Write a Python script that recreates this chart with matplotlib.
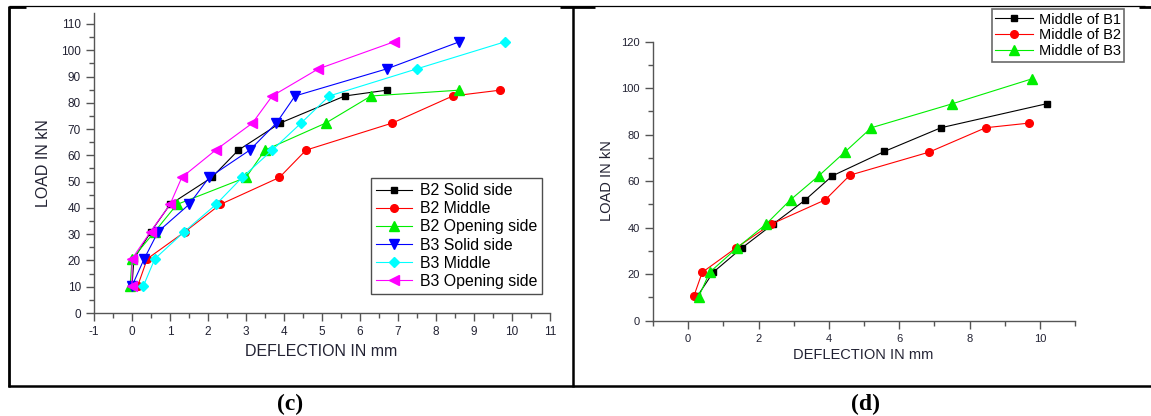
import matplotlib
matplotlib.use("Agg")
import matplotlib.pyplot as plt
from matplotlib.ticker import MultipleLocator
from matplotlib.lines import Line2D

plt.rcParams['font.family'] = ['Liberation Sans', 'DejaVu Sans']
plt.rcParams['axes.unicode_minus'] = False

# --- panel (c) data: deflection (mm) vs load (kN) ---
b2_solid_x = [0.0, 0.05, 0.5, 1.0, 2.1, 2.8, 3.9, 5.6, 6.7]
b2_solid_y = [10.3, 20.6, 31.0, 41.3, 51.6, 62.0, 72.3, 82.6, 84.8]
b2_mid_x = [0.15, 0.4, 1.4, 2.32, 3.88, 4.58, 6.85, 8.44, 9.68]
b2_mid_y = [10.3, 20.6, 31.0, 41.3, 51.6, 62.0, 72.3, 82.6, 84.8]
b2_open_x = [-0.05, 0.0, 0.6, 1.18, 3.0, 3.5, 5.1, 6.29, 8.6]
b2_open_y = [10.3, 20.6, 31.0, 41.3, 51.6, 62.0, 72.3, 82.6, 84.8]
b3_solid_x = [0.0, 0.32, 0.69, 1.5, 2.03, 3.1, 3.8, 4.29, 6.7, 8.61]
b3_solid_y = [10.3, 20.6, 31.0, 41.3, 51.6, 62.0, 72.3, 82.6, 92.9, 103.2]
b3_mid_x = [0.3, 0.6, 1.38, 2.21, 2.9, 3.69, 4.45, 5.19, 7.49, 9.81]
b3_mid_y = [10.3, 20.6, 31.0, 41.3, 51.6, 62.0, 72.3, 82.6, 92.9, 103.2]
b3_open_x = [0.0, 0.0, 0.49, 1.0, 1.31, 2.2, 3.17, 3.69, 4.9, 6.89]
b3_open_y = [10.3, 20.6, 31.0, 41.3, 51.6, 62.0, 72.3, 82.6, 92.9, 103.2]

# --- panel (d) data ---
mid_b1_x = [0.26, 0.71, 1.52, 2.41, 3.31, 4.1, 5.58, 7.19, 10.19]
mid_b1_y = [10.5, 20.8, 31.2, 41.5, 51.7, 62.3, 72.8, 83.0, 93.3]
mid_b2_x = [0.16, 0.4, 1.35, 2.36, 3.9, 4.6, 6.85, 8.46, 9.7]
mid_b2_y = [10.5, 20.8, 31.2, 41.5, 52.0, 62.6, 72.5, 83.0, 85.0]
mid_b3_x = [0.3, 0.61, 1.39, 2.22, 2.91, 3.72, 4.46, 5.21, 7.51, 9.79]
mid_b3_y = [10.3, 20.8, 31.3, 41.6, 52.0, 62.4, 72.6, 83.0, 93.3, 104.1]

W, H = 1151, 416
fig = plt.figure(figsize=(W / 100, H / 100), dpi=100)


def fx(px):
    return px / W


def fy(py):
    return 1 - py / H


def style_axes(ax, lab_size):
    for s in ['top', 'right']:
        ax.spines[s].set_visible(False)
    for s in ['left', 'bottom']:
        ax.spines[s].set_color('#555555')
        ax.spines[s].set_linewidth(1.0)
    ax.tick_params(which='major', direction='out', length=6, width=1.0,
                   color='#555555', labelsize=lab_size, labelcolor='#222233')
    ax.tick_params(which='minor', direction='out', length=3.5, width=1.0,
                   color='#555555')


# ---------------- panel (c) ----------------
ax1 = fig.add_axes([fx(94), fy(313), fx(550 - 94), (313 - 12.7) / H])
series_c = [
    (b2_solid_x, b2_solid_y, 'black', 's', 'B2 Solid side', 5),
    (b2_mid_x, b2_mid_y, 'red', 'o', 'B2 Middle', 5.5),
    (b2_open_x, b2_open_y, '#00ee00', '^', 'B2 Opening side', 7),
    (b3_solid_x, b3_solid_y, 'blue', 'v', 'B3 Solid side', 7),
    (b3_mid_x, b3_mid_y, 'cyan', 'D', 'B3 Middle', 5.5),
    (b3_open_x, b3_open_y, 'magenta', '<', 'B3 Opening side', 7),
]
for x, y, c, m, lab, ms in series_c:
    ax1.plot(x, y, color=c, marker=m, markersize=ms, linewidth=0.8, label=lab)
ax1.set_xlim(-1, 11)
ax1.set_ylim(0, 114.3)
ax1.xaxis.set_major_locator(MultipleLocator(1))
ax1.xaxis.set_minor_locator(MultipleLocator(0.5))
ax1.yaxis.set_major_locator(MultipleLocator(10))
ax1.yaxis.set_minor_locator(MultipleLocator(5))
style_axes(ax1, 8.5)
leg1 = ax1.legend(loc='upper left', bbox_to_anchor=(fx(371), fy(178.3)),
                  bbox_transform=fig.transFigure, fontsize=11.4, frameon=True,
                  fancybox=False, edgecolor='#222222', labelspacing=0.2,
                  handlelength=2.3, handletextpad=0.5, borderpad=0.3,
                  borderaxespad=0)
leg1.get_frame().set_linewidth(1.0)

fig.text(fx(321), fy(351), 'DEFLECTION IN mm', ha='center', va='center',
         fontsize=11.5, color='#222233')
fig.text(fx(43.5), fy(163), 'LOAD IN kN', ha='center', va='center',
         rotation=90, fontsize=11.5, color='#222233')

# ---------------- panel (d) ----------------
ax2 = fig.add_axes([fx(653), fy(320.7), fx(1075 - 653), (320.7 - 41.7) / H])
series_d = [
    (mid_b1_x, mid_b1_y, 'black', 's', 'Middle of B1', 5),
    (mid_b2_x, mid_b2_y, 'red', 'o', 'Middle of B2', 5.5),
    (mid_b3_x, mid_b3_y, '#00ee00', '^', 'Middle of B3', 7),
]
for x, y, c, m, lab, ms in series_d:
    ax2.plot(x, y, color=c, marker=m, markersize=ms, linewidth=0.8, label=lab)
ax2.set_xlim(-1, 11)
ax2.set_ylim(0, 120)
ax2.set_xticks([0, 2, 4, 6, 8, 10])
ax2.xaxis.set_minor_locator(MultipleLocator(1))
ax2.yaxis.set_major_locator(MultipleLocator(20))
ax2.yaxis.set_minor_locator(MultipleLocator(10))
style_axes(ax2, 8)
leg2 = ax2.legend(loc='upper left', bbox_to_anchor=(fx(991.7), fy(9.3)),
                  bbox_transform=fig.transFigure, fontsize=10.5, frameon=True,
                  fancybox=False, edgecolor='#444444', labelspacing=0.13,
                  handlelength=2.6, handletextpad=0.4, borderpad=0.22,
                  borderaxespad=0)
leg2.get_frame().set_linewidth(1.2)

fig.text(fx(863), fy(355), 'DEFLECTION IN mm', ha='center', va='center',
         fontsize=10.5, color='#222233')
fig.text(fx(607), fy(181), 'LOAD IN kN', ha='center', va='center',
         rotation=90, fontsize=10.5, color='#222233')

# ---------------- table borders and captions ----------------
def hline(x0, x1, y, lw):
    fig.add_artist(Line2D([fx(x0), fx(x1)], [fy(y), fy(y)], color='black',
                          linewidth=lw, solid_capstyle='butt'))


def vline(x, y0, y1, lw):
    fig.add_artist(Line2D([fx(x), fx(x)], [fy(y0), fy(y1)], color='black',
                          linewidth=lw, solid_capstyle='butt'))


hline(9, 1145, 6.3, 0.9)
hline(9, 26, 6.5, 2.0)
hline(560, 595, 6.5, 2.0)
hline(1139, 1151, 6.5, 2.0)
vline(9, 5.5, 386.5, 2.0)
vline(573, 5.5, 386.5, 1.8)
hline(8, 1151, 386, 1.8)

fig.text(fx(290), fy(404), '(c)', ha='center', va='center', fontsize=17,
         fontweight='bold', family=['Liberation Serif', 'DejaVu Serif'])
fig.text(fx(865), fy(404), '(d)', ha='center', va='center', fontsize=17,
         fontweight='bold', family=['Liberation Serif', 'DejaVu Serif'])

fig.savefig('out.png', dpi=100)
